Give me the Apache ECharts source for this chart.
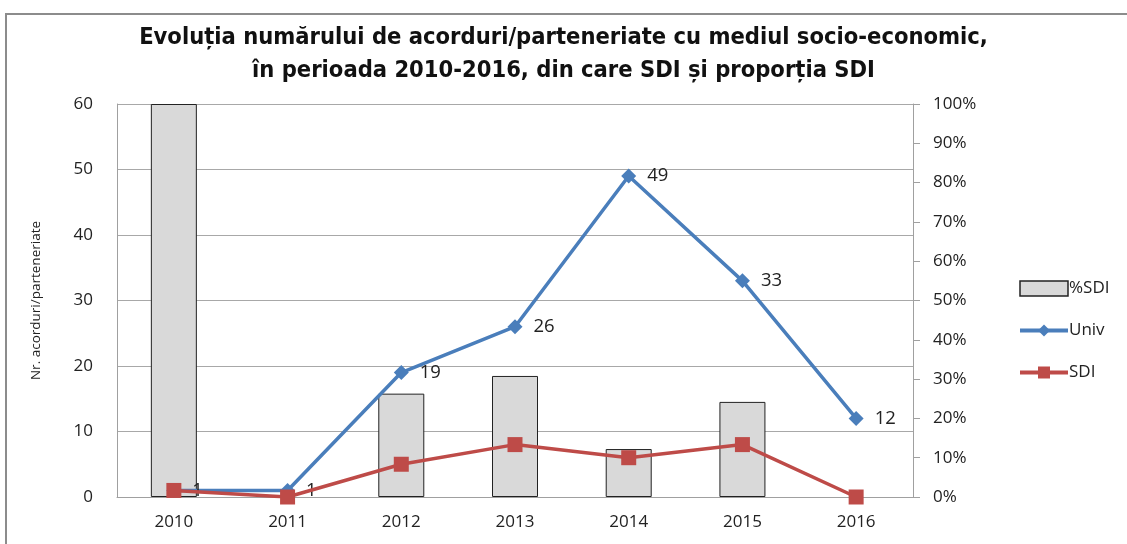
<!DOCTYPE html>
<html>
<head>
<meta charset="utf-8">
<script src="https://cdn.jsdelivr.net/npm/echarts@6/dist/echarts.min.js"></script>
<style>
html,body{margin:0;padding:0;background:#fff;}
#c{width:1127px;height:544px;}
</style>
</head>
<body>
<div id="c"></div>
<script>
const titleText = 'Evoluția numărului de acorduri/parteneriate cu mediul socio-economic,\nîn perioada 2010-2016, din care SDI și proporția SDI';
const years = ['2010','2011','2012','2013','2014','2015','2016'];
const pctSDI = [1.00, 0.00, 0.263, 0.308, 0.122, 0.242, 0.00];
const univ = [1, 1, 19, 26, 49, 33, 12];
const sdi = [1, 0, 5, 8, 6, 8, 0];
const leftTicks = [0, 10, 20, 30, 40, 50, 60];
const rightTicks = [0, 0.1, 0.2, 0.3, 0.4, 0.5, 0.6, 0.7, 0.8, 0.9, 1.0];

const FONT = '"Liberation Sans Narrow", "DejaVu Sans Condensed", "Liberation Sans", sans-serif';
const LFONT = '"Open Sans", "Liberation Sans", sans-serif';
const BLUE = '#4a7ebb';
const RED = '#be4b48';

const chart = echarts.init(document.getElementById('c'), null, {renderer:'canvas'});
chart.setOption({
  animation: false,
  backgroundColor: '#fff',
  graphic: [{
    type: 'rect', silent: true, z: -10,
    shape: {x: 6, y: 14, width: 1200, height: 600},
    style: {fill: 'none', stroke: '#8c8c8c', lineWidth: 2}
  }],
  title: {
    text: titleText,
    left: 'center', top: 16,
    textStyle: {fontFamily: FONT, fontWeight: 'bold', fontSize: 23.5, color: '#111', lineHeight: 33}
  },
  legend: {
    orient: 'vertical',
    left: 1013, top: 275,
    itemGap: 25,
    itemWidth: 48, itemHeight: 15,
    textStyle: {fontFamily: LFONT, fontSize: 17, color: '#222', padding: [0,0,0,-4]},
    data: [
      {name: '%SDI', icon: 'rect', itemStyle: {color: '#d9d9d9', borderColor: '#222', borderWidth: 1.5}},
      {name: 'Univ', lineStyle: {width: 4, color: BLUE}},
      {name: 'SDI', lineStyle: {width: 4, color: RED}}
    ]
  },
  grid: {left: 117, right: 214, top: 104, bottom: 47, containLabel: false},
  xAxis: {
    type: 'category',
    data: years,
    axisLine: {lineStyle: {color: '#a0a0a0', width: 1}},
    axisTick: {show: false},
    axisLabel: {fontFamily: LFONT, fontSize: 17, color: '#222', margin: 17}
  },
  yAxis: [{
    type: 'value', min: leftTicks[0], max: leftTicks[leftTicks.length-1], interval: 10,
    name: 'Nr. acorduri/parteneriate',
    nameLocation: 'middle', nameGap: 74, nameRotate: 90,
    nameTextStyle: {fontFamily: LFONT, fontSize: 13.5, color: '#222'},
    axisLine: {show: true, lineStyle: {color: '#a0a0a0'}},
    axisTick: {show: false},
    splitLine: {show: true, lineStyle: {color: '#a8a8a8', width: 1}},
    axisLabel: {fontFamily: LFONT, fontSize: 17, color: '#222', margin: 24}
  }, {
    type: 'value', min: rightTicks[0], max: rightTicks[rightTicks.length-1], interval: 0.1, position: 'right',
    axisLine: {show: true, lineStyle: {color: '#a0a0a0'}},
    axisTick: {show: true, inside: false, length: 7, lineStyle: {color: '#a0a0a0'}},
    splitLine: {show: false},
    axisLabel: {fontFamily: LFONT, fontSize: 17, color: '#222', margin: 20,
      formatter: v => Math.round(v*100) + '%'}
  }],
  series: [{
    name: '%SDI', type: 'bar', yAxisIndex: 1,
    data: pctSDI.map(v => v === 0 ? null : v), barWidth: 46, z: 1,
    itemStyle: {color: '#d9d9d9', borderColor: '#222', borderWidth: 1}
  }, {
    name: 'Univ', type: 'line', yAxisIndex: 0,
    data: univ, z: 3,
    symbol: 'diamond', symbolSize: 15,
    lineStyle: {color: BLUE, width: 3.5},
    itemStyle: {color: BLUE},
    label: {show: true, position: 'right', distance: 11, fontFamily: LFONT, fontSize: 18.5, color: '#222'}
  }, {
    name: 'SDI', type: 'line', yAxisIndex: 0,
    data: sdi, z: 4,
    symbol: 'rect', symbolSize: 15,
    lineStyle: {color: RED, width: 3.5},
    itemStyle: {color: RED}
  }]
});
</script>
</body>
</html>
